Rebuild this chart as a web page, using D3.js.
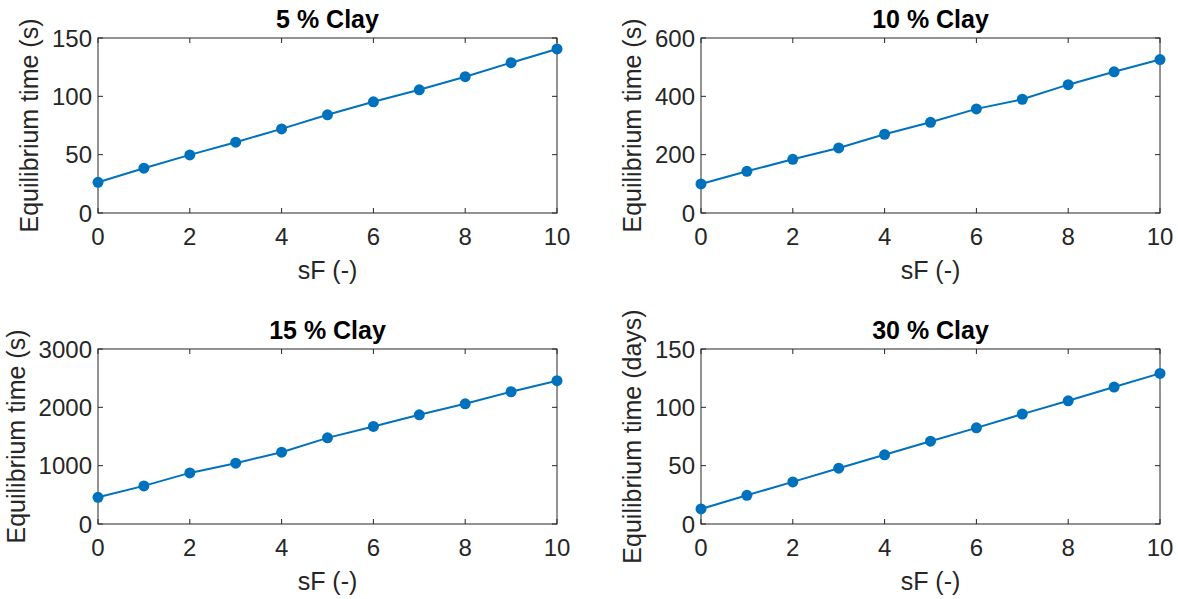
<!DOCTYPE html>
<html>
<head>
<meta charset="utf-8">
<script src="https://cdn.jsdelivr.net/npm/d3@7"></script>
<style>
  body { margin: 0; background: #fff; }
  svg { display: block; font-family: "Liberation Sans", Arial, sans-serif; }
</style>
</head>
<body>
<script>
var W = 1178, H = 599;

// data
var sF = [0, 1, 2, 3, 4, 5, 6, 7, 8, 9, 10];
var clay5 = [26.3, 38.4, 49.8, 60.7, 72.1, 84.2, 95.3, 105.6, 116.8, 128.8, 140.6];
var clay10 = [99.6, 143, 184, 223, 270, 311, 357, 390, 440, 484, 526];
var clay15 = [458, 653, 876, 1042, 1231, 1477, 1672, 1872, 2061, 2267, 2456];
var clay30 = [12.9, 24.6, 36.1, 47.8, 59.3, 71.0, 82.4, 94.2, 105.6, 117.4, 129.1];

var titles = ["5 % Clay", "10 % Clay", "15 % Clay", "30 % Clay"];
var yLabels = ["Equilibrium time (s)", "Equilibrium time (s)", "Equilibrium time (s)", "Equilibrium time (days)"];
var yMax = [150, 600, 3000, 150];
var yTicks = [[0, 50, 100, 150], [0, 200, 400, 600], [0, 1000, 2000, 3000], [0, 50, 100, 150]];
var xTicks = [0, 2, 4, 6, 8, 10];
var series = [clay5, clay10, clay15, clay30];

var svg = d3.select("body").append("svg")
    .attr("width", W)
    .attr("height", H);

var ink = "#262626";
var blue = "#0072BD";
var cols = [98, 701], rows = [38, 349];
var pw = 459, ph = 175;
var tickLen = 5;

series.forEach(function(vals, i) {
  var left = cols[i % 2], top = rows[Math.floor(i / 2)];
  var g = svg.append("g").attr("transform", "translate(" + left + "," + top + ")");

  var x = d3.scaleLinear().domain([0, 10]).range([0, pw]);
  var y = d3.scaleLinear().domain([0, yMax[i]]).range([ph, 0]);

  // ticks, drawn inside the box on all four sides
  xTicks.forEach(function(t) {
    g.append("line").attr("x1", x(t)).attr("x2", x(t)).attr("y1", ph).attr("y2", ph - tickLen)
      .attr("stroke", ink).attr("stroke-width", 1);
    g.append("line").attr("x1", x(t)).attr("x2", x(t)).attr("y1", 0).attr("y2", tickLen)
      .attr("stroke", ink).attr("stroke-width", 1);
  });
  yTicks[i].forEach(function(t) {
    g.append("line").attr("x1", 0).attr("x2", tickLen).attr("y1", y(t)).attr("y2", y(t))
      .attr("stroke", ink).attr("stroke-width", 1);
    g.append("line").attr("x1", pw).attr("x2", pw - tickLen).attr("y1", y(t)).attr("y2", y(t))
      .attr("stroke", ink).attr("stroke-width", 1);
  });

  g.append("rect")
    .attr("x", 0).attr("y", 0)
    .attr("width", pw).attr("height", ph)
    .attr("fill", "none")
    .attr("stroke", ink)
    .attr("stroke-width", 1);

  // tick labels
  g.selectAll(".xt").data(xTicks).enter().append("text")
    .attr("x", function(d) { return x(d); })
    .attr("y", ph + 32)
    .attr("text-anchor", "middle")
    .style("font-size", "24px")
    .style("fill", ink)
    .text(function(d) { return d; });

  var maxW = 0;
  g.selectAll(".yt").data(yTicks[i]).enter().append("text")
    .attr("x", -6)
    .attr("y", function(d) { return y(d); })
    .attr("dy", "0.36em")
    .attr("text-anchor", "end")
    .style("font-size", "24px")
    .style("fill", ink)
    .text(function(d) { return d; })
    .each(function() { maxW = Math.max(maxW, this.getComputedTextLength()); });

  // axis labels
  g.append("text")
    .attr("x", pw / 2)
    .attr("y", ph + 66)
    .attr("text-anchor", "middle")
    .style("font-size", "25px")
    .style("fill", ink)
    .text("sF (-)");

  g.append("text")
    .attr("transform", "translate(" + (-maxW - 20) + "," + (ph / 2) + ") rotate(-90)")
    .attr("text-anchor", "middle")
    .style("font-size", "25px")
    .style("fill", ink)
    .text(yLabels[i]);

  g.append("text")
    .attr("x", pw / 2)
    .attr("y", -10)
    .attr("text-anchor", "middle")
    .style("font-size", "25px")
    .style("font-weight", "bold")
    .style("fill", "#000")
    .text(titles[i]);

  var line = d3.line()
    .x(function(d, j) { return x(sF[j]); })
    .y(function(d) { return y(d); });

  g.append("path")
    .datum(vals)
    .attr("d", line)
    .attr("fill", "none")
    .attr("stroke", blue)
    .attr("stroke-width", 2);

  g.selectAll(".pt").data(vals).enter().append("circle")
    .attr("cx", function(d, j) { return x(sF[j]); })
    .attr("cy", function(d) { return y(d); })
    .attr("r", 5.5)
    .attr("fill", blue);
});
</script>
</body>
</html>
